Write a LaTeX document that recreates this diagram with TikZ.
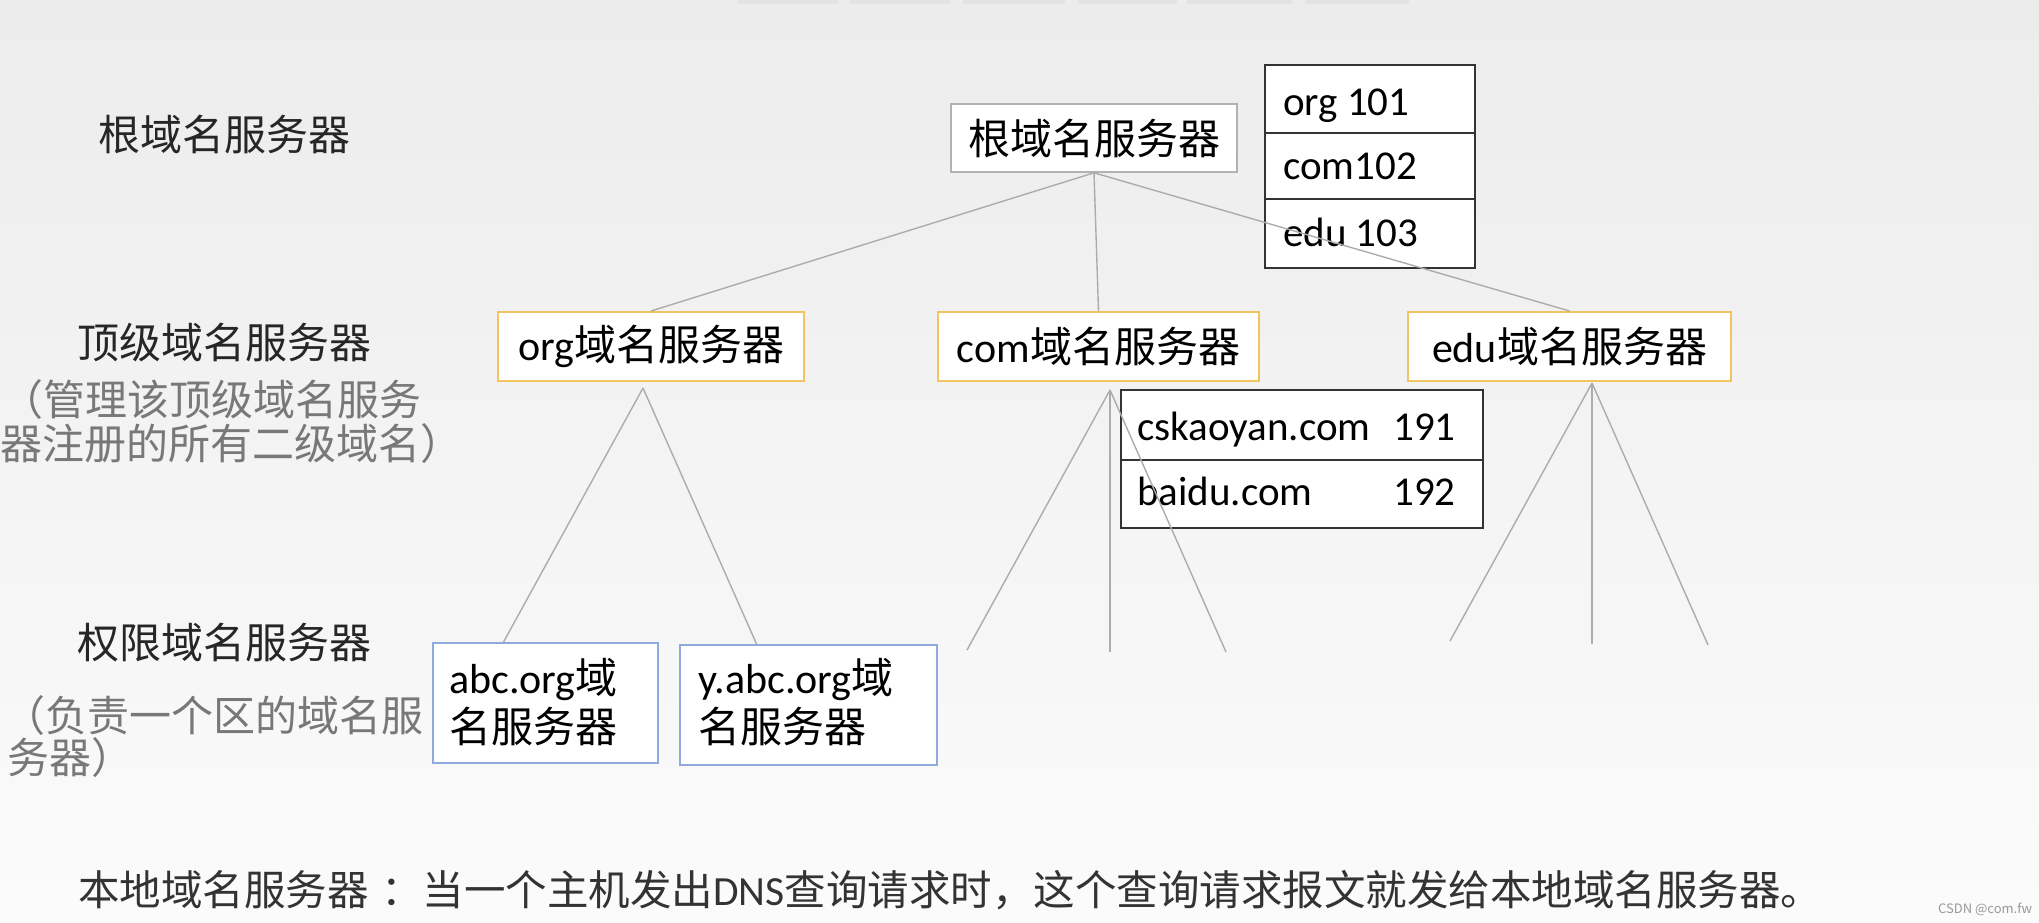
\documentclass[tikz,border=0pt]{standalone}
\usepackage{fontspec}
\setmainfont{Noto Sans CJK SC}
\newfontfamily\latf{Carlito}
\newcommand\ltn[1]{{\latf #1}}
\newcommand\fs[1]{\fontsize{#1pt}{#1pt}\selectfont}
\definecolor{tldc}{RGB}{242,196,96}
\definecolor{authc}{RGB}{143,170,220}
\definecolor{lblgray}{RGB}{120,120,120}
\tikzset{
  conn/.style={draw=gray!65, line width=1.4pt},
  rootbox/.style={draw=gray!60, fill=white, line width=1.6pt, minimum width=286pt, minimum height=68pt, inner sep=0pt, font=\fs{42}},
  tldbox/.style={draw=tldc, fill=white, line width=2pt, minimum height=69pt, inner sep=0pt, font=\fs{42}},
  authbox/.style={draw=authc, fill=white, line width=1.8pt, inner sep=0pt},
  tbl/.style={draw=black!80, line width=2pt, fill=white, inner sep=0pt},
  tblline/.style={draw=black!80, line width=2pt},
  txt/.style={inner sep=0pt, anchor=base west},
}
\begin{document}
\begin{tikzpicture}[x=1pt,y=-1pt]
\useasboundingbox (0,0) rectangle (2039,923);
\shade[top color=gray!15, bottom color=gray!3] (0,0) rectangle (2039,923);
% faint tabs at top
\foreach \a/\b in {738/838,850/950,963/1065,1078/1177,1187/1292,1305/1409}
  \fill[gray!22] (\a,0) rectangle (\b,4);

% left labels
\node[txt, font=\fs{42}, text=black!85] (lbl1) at (98,150) {根域名服务器};
\node[txt, font=\fs{42}, text=black!85] (lbl2) at (77,358) {顶级域名服务器};
\node[txt, font=\fs{42}, text=lblgray] (lbl2a) at (1,415) {（管理该顶级域名服务};
\node[txt, font=\fs{42}, text=lblgray] (lbl2b) at (0,459) {器注册的所有二级域名）};
\node[txt, font=\fs{42}, text=black!85] (lbl3) at (77,658) {权限域名服务器};
\node[txt, font=\fs{42}, text=lblgray] (lbl3a) at (3,731) {（负责一个区的域名服};
\node[txt, font=\fs{42}, text=lblgray] (lbl3b) at (7,773) {务器）};

% root table
\node[tbl, minimum width=210pt, minimum height=203pt] (roottbl) at (1370,166.5) {};
\draw[tblline] (1265,133) -- (1475,133);
\draw[tblline] (1265,199) -- (1475,199);
\node[txt, font=\latf\fs{41}] (rt1) at (1283,116) {org 101};
\node[txt, font=\latf\fs{41}] (rt2) at (1283,179) {com102};
\node[txt, font=\latf\fs{41}] (rt3) at (1283,246) {edu 103};

% root and TLD nodes
\node[rootbox] (root) at (1094,138) {根域名服务器};
\node[tldbox, minimum width=306pt] (org) at (651,346.5) {\ltn{org}域名服务器};
\node[tldbox, minimum width=321pt] (com) at (1098.5,346.5) {\ltn{com}域名服务器};
\node[tldbox, minimum width=323pt] (edu) at (1569.5,346.5) {\ltn{edu}域名服务器};

\draw[conn] (root.south) -- (org.north);
\draw[conn] (root.south) -- (com.north);
\draw[conn] (root.south) -- (edu.north);

% com table
\node[tbl, minimum width=362pt, minimum height=138pt] (comtbl) at (1302,459) {};
\draw[tblline] (1121,460) -- (1483,460);
\node[txt, font=\latf\fs{41}] (ct1) at (1137,440) {cskaoyan.com};
\node[txt, font=\latf\fs{41}] (ct1n) at (1393,440) {191};
\node[txt, font=\latf\fs{41}] (ct2) at (1137,505) {baidu.com};
\node[txt, font=\latf\fs{41}] (ct2n) at (1393,505) {192};

% authoritative servers
\node[authbox, minimum width=225pt, minimum height=120pt] (abc) at (545.5,703) {};
\node[authbox, minimum width=257pt, minimum height=120pt] (yabc) at (808.5,705) {};
\node[txt, font=\fs{42}] (abc1) at (449,693) {\ltn{abc.org}域};
\node[txt, font=\fs{42}] (abc2) at (449,742) {名服务器};
\node[txt, font=\fs{42}] (yabc1) at (698,693) {\ltn{y.abc.org}域};
\node[txt, font=\fs{42}] (yabc2) at (698,742) {名服务器};

% subtree apexes and ends
\coordinate (orgApex) at (643,388);
\coordinate (abcTop) at (503,643);
\coordinate (yabcTop) at (757,645);
\draw[conn] (orgApex) -- (abcTop);
\draw[conn] (orgApex) -- (yabcTop);

\coordinate (comApex) at (1110,390);
\coordinate (comL) at (967,650);
\coordinate (comM) at (1110,652);
\coordinate (comR) at (1226,652);
\draw[conn] (comApex) -- (comL);
\draw[conn] (comApex) -- (comM);
\draw[conn] (comApex) -- (comR);

\coordinate (eduApex) at (1592,383);
\coordinate (eduL) at (1450,641);
\coordinate (eduM) at (1592,644);
\coordinate (eduR) at (1708,645);
\draw[conn] (eduApex) -- (eduL);
\draw[conn] (eduApex) -- (eduM);
\draw[conn] (eduApex) -- (eduR);

% bottom note
\node[txt, font=\fs{41.5}, text=black!80] (note) at (78,905) {本地域名服务器\hspace{0.3em}：当一个主机发出\ltn{DNS}查询请求时，这个查询请求报文就发给本地域名服务器。};
\node[txt, font=\fs{13}, text=gray!80] (wm) at (1938,913) {CSDN @com.fw};
\end{tikzpicture}
\end{document}
